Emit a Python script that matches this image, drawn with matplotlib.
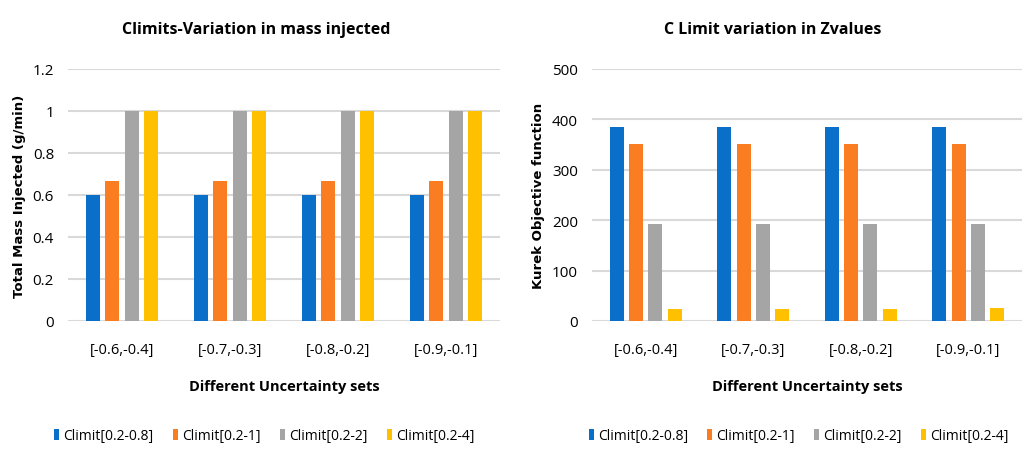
import matplotlib
matplotlib.use("Agg")
import matplotlib.pyplot as plt
import numpy as np
from matplotlib.patches import Patch

categories = ["[-0.6,-0.4]", "[-0.7,-0.3]", "[-0.8,-0.2]", "[-0.9,-0.1]"]
series_names = ["Climit[0.2-0.8]", "Climit[0.2-1]", "Climit[0.2-2]", "Climit[0.2-4]"]
colors = ["#0a6fc9", "#fb7d21", "#a5a5a5", "#ffc000"]

mass_injected = [
    [0.6, 0.6, 0.6, 0.6],
    [0.667, 0.667, 0.667, 0.667],
    [1.0, 1.0, 1.0, 1.0],
    [1.0, 1.0, 1.0, 1.0],
]
kurek_values = [
    [385, 385, 385, 385],
    [352, 352, 352, 352],
    [192, 192, 192, 192],
    [23, 23, 23, 26],
]

cond = ["Liberation Sans Narrow", "Open Sans", "DejaVu Sans"]

fig = plt.figure(figsize=(10.24, 4.56), dpi=100)
ax1 = fig.add_axes([68/1024, 1-322/456, 432/1024, 252/456])
ax2 = fig.add_axes([592/1024, 1-322/456, 430/1024, 252/456])

def draw(ax, data, ylim, yticks, yticklabels, ylabel, title, tx):
    x = np.arange(len(categories))
    w = 0.13
    step = 0.18
    for i, (vals, c) in enumerate(zip(data, colors)):
        ax.bar(x + (i - 1.5) * step, vals, width=w, color=c, zorder=3)
    ax.set_xlim(-0.5, len(categories) - 0.5)
    ax.set_ylim(*ylim)
    ax.set_yticks(yticks)
    ax.set_yticklabels(yticklabels, family=cond, fontsize=11)
    ax.set_xticks(x)
    ax.set_xticklabels(categories, family=cond, fontsize=10.5)
    ax.tick_params(length=0, pad=15)
    ax.tick_params(axis="y", pad=10)
    ax.grid(axis="y", color="#d9d9d9", linewidth=1.5, zorder=0)
    for s in ax.spines.values():
        s.set_visible(False)
    ax.set_ylabel(ylabel, family="DejaVu Sans", fontweight="bold", fontsize=9.5, labelpad=5)
    ax.set_xlabel("Different Uncertainty sets", family=cond, fontsize=10.5, fontweight="bold", labelpad=16)
    ax.set_title(title, family=cond, fontsize=11.5, fontweight="bold", pad=26, x=tx)

draw(ax1, mass_injected, (0, 1.2), [0, 0.2, 0.4, 0.6, 0.8, 1.0, 1.2],
     ["0", "0.2", "0.4", "0.6", "0.8", "1", "1.2"],
     "Total Mass Injected (g/min)", "Climits-Variation in mass injected", 0.435)
draw(ax2, kurek_values, (0, 500), [0, 100, 200, 300, 400, 500],
     ["0", "100", "200", "300", "400", "500"],
     "Kurek Objective function", "C Limit variation in Zvalues", 0.42)

handles = [Patch(facecolor=c) for c in colors]
for xc in (0.258, 0.78):
    fig.legend(handles, series_names, loc="center", bbox_to_anchor=(xc, 1-437/456),
               ncol=4, frameon=False, prop={"family": cond, "size": 10},
               handlelength=0.35, handleheight=0.9, handletextpad=0.3, columnspacing=1.4)

fig.savefig("out.png", dpi=100)
